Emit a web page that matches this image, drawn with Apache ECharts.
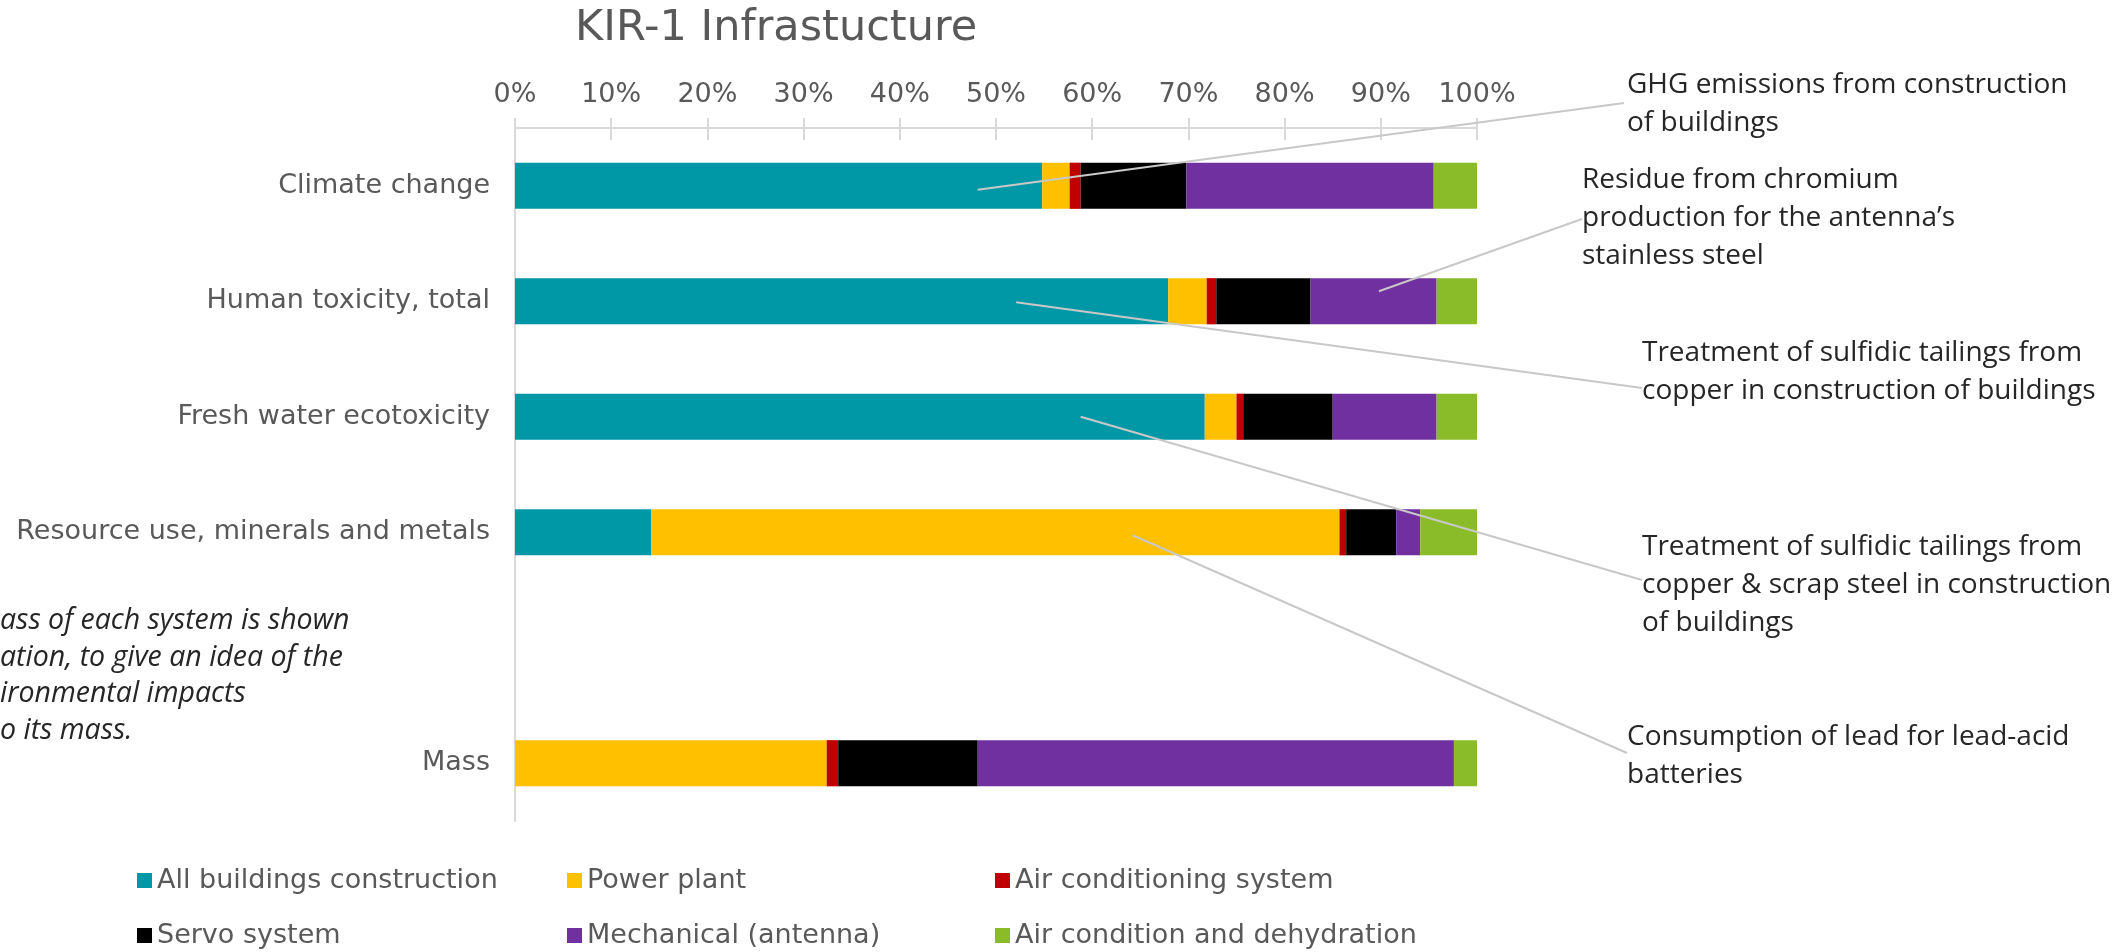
<!DOCTYPE html>
<html>
<head>
<meta charset="utf-8">
<script src="https://cdn.jsdelivr.net/npm/echarts@6/dist/echarts.min.js"></script>
<style>
html,body{margin:0;padding:0;background:#fff;}
#chart{width:2126px;height:952px;}
</style>
</head>
<body>
<div id="chart"></div>
<script>
// ---- data ----
const categories = ['Climate change', 'Human toxicity, total', 'Fresh water ecotoxicity', 'Resource use, minerals and metals', '', 'Mass'];
const seriesNames = ['All buildings construction', 'Power plant', 'Air conditioning system', 'Servo system', 'Mechanical (antenna)', 'Air condition and dehydration'];
const allBuildings   = [54.8, 67.9, 71.7, 14.15, null, 0];
const powerPlant     = [2.85, 4.0, 3.3, 71.55, null, 32.4];
const airCondSystem  = [1.15, 1.0, 0.7, 0.7, null, 1.2];
const servoSystem    = [11.0, 9.8, 9.3, 5.2, null, 14.5];
const mechanical     = [25.7, 13.1, 10.8, 2.5, null, 49.5];
const airCondDehyd   = [4.5, 4.2, 4.2, 5.9, null, 2.4];
const xTicks = [0, 10, 20, 30, 40, 50, 60, 70, 80, 90, 100];

const titleText = 'KIR-1 Infrastucture';
const noteLines = ['ass of each system is shown', 'ation, to give an idea of the', 'ironmental impacts', 'o its mass.'];

// annotations: text lines + anchor (x value, category)
const annotations = [
  { lines: ['GHG emissions from construction', 'of buildings'], value: 48.1, category: 'Climate change' },
  { lines: ['Residue from chromium', 'production for the antenna\u2019s', 'stainless steel'], value: 89.8, category: 'Human toxicity, total' },
  { lines: ['Treatment of sulfidic tailings from', 'copper in construction of buildings'], value: 52.1, category: 'Human toxicity, total' },
  { lines: ['Treatment of sulfidic tailings from', 'copper & scrap steel in construction', 'of buildings'], value: 58.8, category: 'Fresh water ecotoxicity' },
  { lines: ['Consumption of lead for lead-acid', 'batteries'], value: 64.2, category: 'Resource use, minerals and metals' }
];

// ---- layout / style (not data) ----
const colors = ['#0097A7', '#FFC000', '#C00000', '#000000', '#7030A0', '#8ABC2A'];
const annLayout = [
  { x: 1627, y: 66, lx: 1624, ly: 103, dy: 4 },
  { x: 1582, y: 161, lx: 1582, ly: 219, dy: -10 },
  { x: 1642, y: 334, lx: 1642, ly: 388, dy: 1 },
  { x: 1642, y: 528, lx: 1642, ly: 580, dy: 0 },
  { x: 1627, y: 718, lx: 1627, ly: 753, dy: 3 }
];
const legendPos = [
  { left: 137, top: 867 }, { left: 567, top: 867 }, { left: 995, top: 867 },
  { left: 137, top: 922 }, { left: 567, top: 922 }, { left: 995, top: 922 }
];

const seriesData = [allBuildings, powerPlant, airCondSystem, servoSystem, mechanical, airCondDehyd];
const labelFont = 'DejaVu Sans';
const annFont = '28px "Open Sans"';

const chart = echarts.init(document.getElementById('chart'), null, { renderer: 'canvas' });

const gridTop = 128, gridHeight = 693;

const option = {
  backgroundColor: '#ffffff',
  animation: false,
  title: {
    text: titleText,
    left: 570,
    top: 2,
    textStyle: { fontFamily: labelFont, fontSize: 43, fontWeight: 'normal', color: '#595959' }
  },
  grid: { left: 515, right: 2126 - 1477, top: gridTop, height: gridHeight, containLabel: false },
  legend: seriesNames.map((n, i) => ({
    data: [n],
    left: legendPos[i].left,
    top: legendPos[i].top,
    icon: 'rect',
    itemWidth: 15,
    itemHeight: 15,
    padding: 0,
    textStyle: { fontFamily: labelFont, fontSize: 27, color: '#595959' },
    selectedMode: false
  })),
  xAxis: [
    {
      type: 'value',
      position: 'top',
      min: xTicks[0],
      max: xTicks[xTicks.length - 1],
      interval: xTicks[1] - xTicks[0],
      axisLine: { show: true, lineStyle: { color: '#d9d9d9', width: 2 } },
      axisTick: { show: true, inside: false, length: 10, lineStyle: { color: '#d9d9d9', width: 2 } },
      splitLine: { show: false },
      axisLabel: { fontFamily: labelFont, fontSize: 27, color: '#595959', margin: 20, formatter: '{value}%' }
    },
    {
      type: 'value',
      position: 'bottom',
      offset: -gridHeight,
      min: xTicks[0],
      max: xTicks[xTicks.length - 1],
      interval: xTicks[1] - xTicks[0],
      axisLine: { show: false },
      axisTick: { show: true, inside: false, length: 12, lineStyle: { color: '#d9d9d9', width: 2 } },
      splitLine: { show: false },
      axisLabel: { show: false }
    }
  ],
  yAxis: {
    type: 'category',
    inverse: true,
    data: categories,
    axisLine: { show: true, lineStyle: { color: '#d9d9d9', width: 2 } },
    axisTick: { show: false },
    axisLabel: { fontFamily: labelFont, fontSize: 27, color: '#595959', margin: 25 }
  },
  series: seriesNames.map((n, i) => ({
    name: n,
    type: 'bar',
    stack: 'total',
    xAxisIndex: 0,
    barWidth: '40%',
    itemStyle: { color: colors[i] },
    data: seriesData[i]
  }))
};
chart.setOption(option);

// annotations graphics
const graphics = [];
annotations.forEach((a, i) => {
  const L = annLayout[i];
  const p = chart.convertToPixel({ gridIndex: 0 }, [a.value, a.category]);
  graphics.push({
    type: 'line',
    silent: true,
    z: 100,
    shape: { x1: p[0], y1: p[1] + L.dy, x2: L.lx, y2: L.ly },
    style: { stroke: '#c8c8c8', lineWidth: 2 }
  });
  graphics.push({
    type: 'text',
    silent: true,
    z: 100,
    x: L.x,
    y: L.y,
    style: { text: a.lines.join('\n'), font: annFont, fill: '#262626', lineHeight: 38, verticalAlign: 'top', align: 'left' }
  });
});
graphics.push({
  type: 'text',
  silent: true,
  x: 0,
  y: 603,
  style: { text: noteLines.join('\n'), font: 'italic 28.5px "Open Sans"', fill: '#262626', lineHeight: 36.5, verticalAlign: 'top', align: 'left' }
});
chart.setOption({ graphic: graphics });
</script>
</body>
</html>
